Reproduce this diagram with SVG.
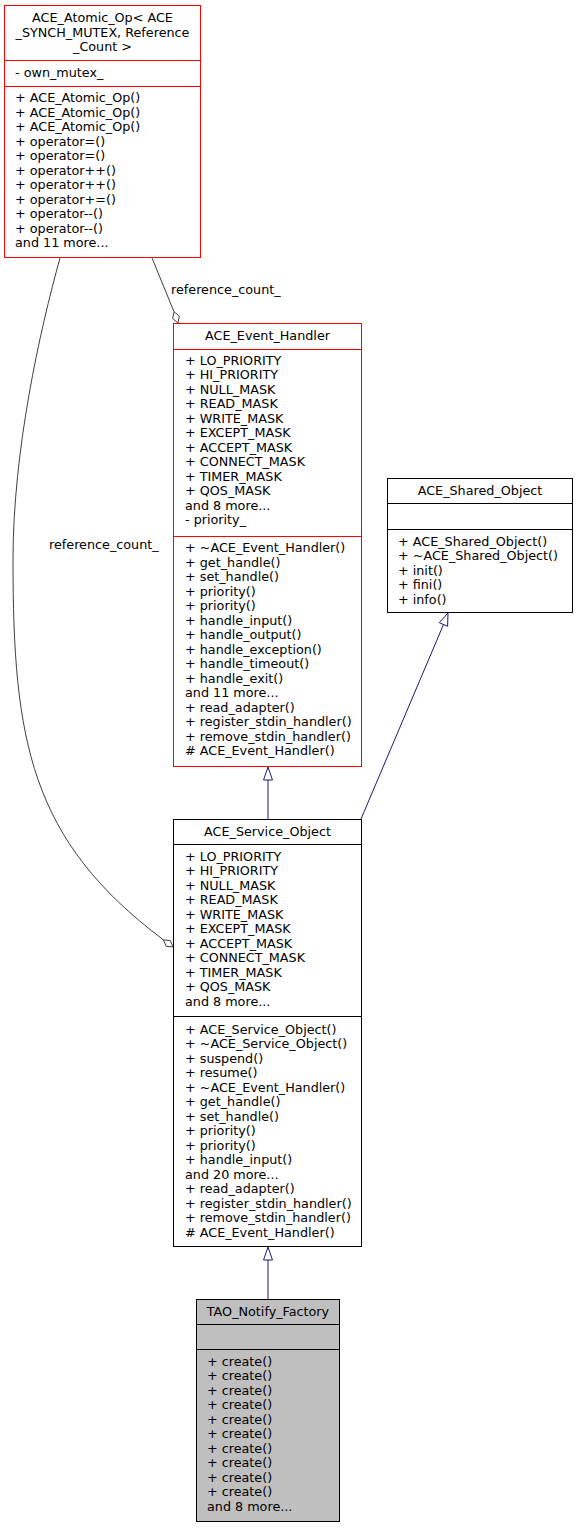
<svg xmlns="http://www.w3.org/2000/svg" width="577" height="1528" viewBox="0 0 577 1528">
<style>
text{font-family:"DejaVu Sans","Liberation Sans",sans-serif;font-size:12.75px;fill:#000}
.c{text-anchor:middle}
.box{fill:#fff;stroke:#000;stroke-width:1}
.red{stroke:#ff0000}
.gray{fill:#bfbfbf}
.div{stroke:#000;stroke-width:1}
.divr{stroke:#ff0000;stroke-width:1}
.inh{stroke:#191970;stroke-width:1;fill:none}
.inhh{stroke:#191970;stroke-width:1;fill:#fff}
.agg{stroke:#404040;stroke-width:1;fill:none}
.aggh{stroke:#404040;stroke-width:1;fill:#fff}
</style>
<rect width="577" height="1528" fill="#fff"/>
<g id="connectors">
<path class="inh" d="M268,819 V780"/>
<polygon class="inhh" points="268,767 263.5,780 272.5,780"/>
<path class="inh" d="M361,819 L443.5,624.5"/>
<polygon class="inhh" points="448,613 439.3,622.7 447.6,626.2"/>
<path class="inh" d="M268,1299 V1260"/>
<polygon class="inhh" points="268,1247 263.5,1260 272.5,1260"/>
<path class="agg" d="M152,258 L174,311.7"/>
<polygon class="aggh" points="178,323 179.3,316.1 174,311.7 172.7,318.6"/>
<text x="171" y="293.5">reference_count_</text>
<path class="agg" d="M60,258 C40,330 13,450 13,560 C13,740 30,840 163.4,939.8"/>
<polygon class="aggh" points="173,947 170.3,940.6 163.4,939.8 166.1,946.2"/>
<text x="49" y="548.5">reference_count_</text>
</g>
<g id="node_atomic_op">
<rect class="box red" x="4.5" y="5.5" width="196" height="252"/>
<line class="divr" x1="4.5" y1="60.5" x2="200.5" y2="60.5"/>
<line class="divr" x1="4.5" y1="86.5" x2="200.5" y2="86.5"/>
<text class="c" x="102.5" y="22">ACE_Atomic_Op&lt; ACE</text>
<text class="c" x="102.5" y="36.5">_SYNCH_MUTEX, Reference</text>
<text class="c" x="102.5" y="51">_Count &gt;</text>
<text x="15" y="76.5">- own_mutex_</text>
<text x="15" y="102.2">+ ACE_Atomic_Op()</text>
<text x="15" y="116.7">+ ACE_Atomic_Op()</text>
<text x="15" y="131.2">+ ACE_Atomic_Op()</text>
<text x="15" y="145.7">+ operator=()</text>
<text x="15" y="160.2">+ operator=()</text>
<text x="15" y="174.7">+ operator++()</text>
<text x="15" y="189.2">+ operator++()</text>
<text x="15" y="203.7">+ operator+=()</text>
<text x="15" y="218.2">+ operator--()</text>
<text x="15" y="232.7">+ operator--()</text>
<text x="15" y="247.2">and 11 more...</text>
</g>
<g id="node_event_handler">
<rect class="box red" x="173.5" y="323.5" width="188" height="443"/>
<line class="divr" x1="173.5" y1="349.5" x2="361.5" y2="349.5"/>
<line class="divr" x1="173.5" y1="536.5" x2="361.5" y2="536.5"/>
<text class="c" x="267.5" y="339.8">ACE_Event_Handler</text>
<text x="185" y="364.8">+ LO_PRIORITY</text>
<text x="185" y="379.3">+ HI_PRIORITY</text>
<text x="185" y="393.8">+ NULL_MASK</text>
<text x="185" y="408.3">+ READ_MASK</text>
<text x="185" y="422.8">+ WRITE_MASK</text>
<text x="185" y="437.3">+ EXCEPT_MASK</text>
<text x="185" y="451.8">+ ACCEPT_MASK</text>
<text x="185" y="466.3">+ CONNECT_MASK</text>
<text x="185" y="480.8">+ TIMER_MASK</text>
<text x="185" y="495.3">+ QOS_MASK</text>
<text x="185" y="509.8">and 8 more...</text>
<text x="185" y="524.3">- priority_</text>
<text x="185" y="552.2">+ ~ACE_Event_Handler()</text>
<text x="185" y="566.7">+ get_handle()</text>
<text x="185" y="581.2">+ set_handle()</text>
<text x="185" y="595.7">+ priority()</text>
<text x="185" y="610.2">+ priority()</text>
<text x="185" y="624.7">+ handle_input()</text>
<text x="185" y="639.2">+ handle_output()</text>
<text x="185" y="653.7">+ handle_exception()</text>
<text x="185" y="668.2">+ handle_timeout()</text>
<text x="185" y="682.7">+ handle_exit()</text>
<text x="185" y="697.2">and 11 more...</text>
<text x="185" y="711.7">+ read_adapter()</text>
<text x="185" y="726.2">+ register_stdin_handler()</text>
<text x="185" y="740.7">+ remove_stdin_handler()</text>
<text x="185" y="755.2"># ACE_Event_Handler()</text>
</g>
<g id="node_shared_object">
<rect class="box" x="387.5" y="478.5" width="185" height="134"/>
<line class="div" x1="387.5" y1="503.5" x2="572.5" y2="503.5"/>
<line class="div" x1="387.5" y1="529.5" x2="572.5" y2="529.5"/>
<text class="c" x="480" y="494.5">ACE_Shared_Object</text>
<text x="398" y="545.5">+ ACE_Shared_Object()</text>
<text x="398" y="560">+ ~ACE_Shared_Object()</text>
<text x="398" y="574.5">+ init()</text>
<text x="398" y="589">+ fini()</text>
<text x="398" y="603.5">+ info()</text>
</g>
<g id="node_service_object">
<rect class="box" x="173.5" y="819.5" width="188" height="427"/>
<line class="div" x1="173.5" y1="844.5" x2="361.5" y2="844.5"/>
<line class="div" x1="173.5" y1="1016.5" x2="361.5" y2="1016.5"/>
<text class="c" x="267.5" y="835.5">ACE_Service_Object</text>
<text x="185" y="860.5">+ LO_PRIORITY</text>
<text x="185" y="875">+ HI_PRIORITY</text>
<text x="185" y="889.5">+ NULL_MASK</text>
<text x="185" y="904">+ READ_MASK</text>
<text x="185" y="918.5">+ WRITE_MASK</text>
<text x="185" y="933">+ EXCEPT_MASK</text>
<text x="185" y="947.5">+ ACCEPT_MASK</text>
<text x="185" y="962">+ CONNECT_MASK</text>
<text x="185" y="976.5">+ TIMER_MASK</text>
<text x="185" y="991">+ QOS_MASK</text>
<text x="185" y="1005.5">and 8 more...</text>
<text x="185" y="1033.8">+ ACE_Service_Object()</text>
<text x="185" y="1048.3">+ ~ACE_Service_Object()</text>
<text x="185" y="1062.8">+ suspend()</text>
<text x="185" y="1077.3">+ resume()</text>
<text x="185" y="1091.8">+ ~ACE_Event_Handler()</text>
<text x="185" y="1106.3">+ get_handle()</text>
<text x="185" y="1120.8">+ set_handle()</text>
<text x="185" y="1135.3">+ priority()</text>
<text x="185" y="1149.8">+ priority()</text>
<text x="185" y="1164.3">+ handle_input()</text>
<text x="185" y="1178.8">and 20 more...</text>
<text x="185" y="1193.3">+ read_adapter()</text>
<text x="185" y="1207.8">+ register_stdin_handler()</text>
<text x="185" y="1222.3">+ remove_stdin_handler()</text>
<text x="185" y="1236.8"># ACE_Event_Handler()</text>
</g>
<g id="node_tao_notify_factory">
<rect class="box gray" x="196.5" y="1299.5" width="143" height="222"/>
<line class="div" x1="196.5" y1="1324.5" x2="339.5" y2="1324.5"/>
<line class="div" x1="196.5" y1="1349.5" x2="339.5" y2="1349.5"/>
<text class="c" x="268" y="1315.5">TAO_Notify_Factory</text>
<text x="207" y="1365.5">+ create()</text>
<text x="207" y="1380">+ create()</text>
<text x="207" y="1394.5">+ create()</text>
<text x="207" y="1409">+ create()</text>
<text x="207" y="1423.5">+ create()</text>
<text x="207" y="1438">+ create()</text>
<text x="207" y="1452.5">+ create()</text>
<text x="207" y="1467">+ create()</text>
<text x="207" y="1481.5">+ create()</text>
<text x="207" y="1496">+ create()</text>
<text x="207" y="1510.5">and 8 more...</text>
</g>
</svg>
